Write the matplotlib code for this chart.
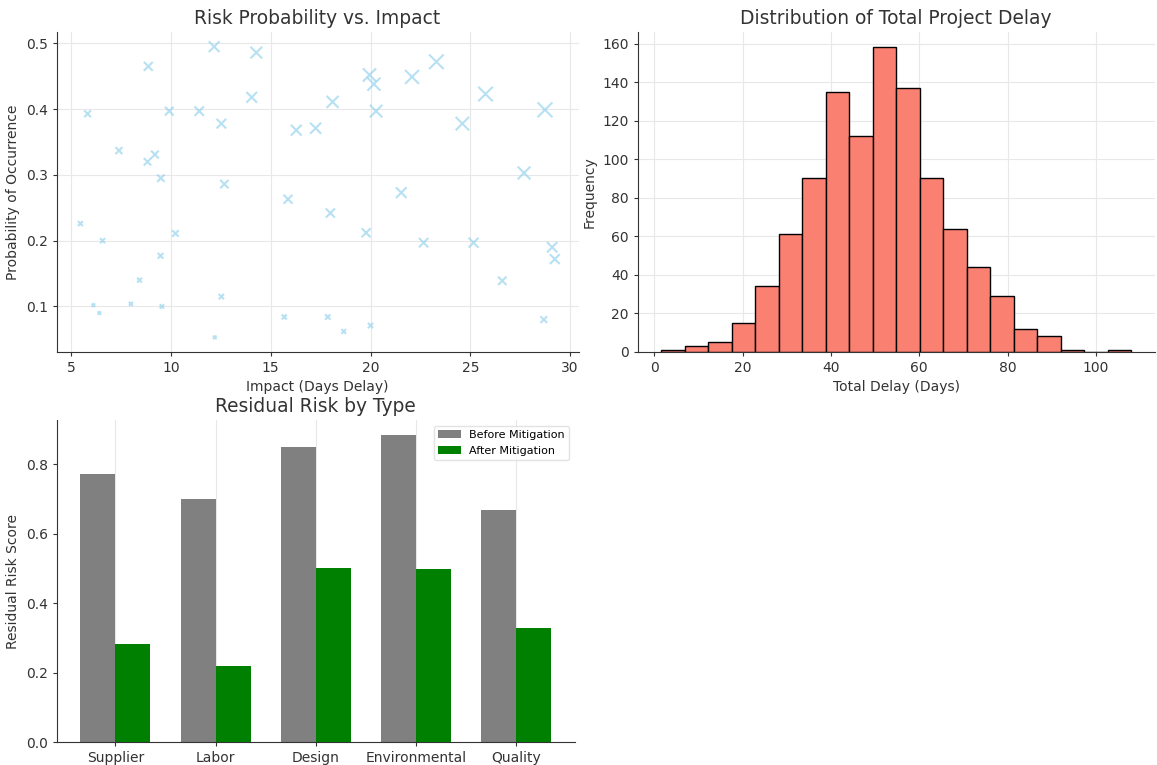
import matplotlib
matplotlib.use("Agg")
import matplotlib.pyplot as plt
import numpy as np

# ---- Scatter data: impact (days) and probability ----
impact = [8.87, 12.17, 14.28, 5.83, 9.92, 11.42, 14.05, 12.53, 16.28, 17.25,
          7.40, 9.20, 8.83, 9.50, 12.68, 15.87, 5.47, 6.58, 10.23, 9.48,
          8.43, 12.53, 6.12, 8.00, 9.55, 6.42, 15.68, 12.20,
          23.30, 19.95, 20.17, 22.08, 18.10, 20.28, 25.76, 28.74, 24.60, 27.69,
          21.54, 17.99, 19.78, 22.66, 25.16, 29.10, 29.23, 26.60, 17.86, 18.66,
          20.00, 28.68]
probability = [0.465, 0.495, 0.486, 0.393, 0.397, 0.397, 0.418, 0.378, 0.368, 0.371,
               0.337, 0.331, 0.320, 0.295, 0.286, 0.263, 0.226, 0.200, 0.211, 0.177,
               0.140, 0.115, 0.102, 0.104, 0.100, 0.090, 0.084, 0.053,
               0.472, 0.452, 0.438, 0.449, 0.411, 0.397, 0.423, 0.399, 0.378, 0.303,
               0.273, 0.242, 0.212, 0.197, 0.197, 0.190, 0.172, 0.139, 0.084, 0.062,
               0.071, 0.080]

# ---- Histogram data ----
bin_edges = np.linspace(1.5, 108.0, 21)
counts = [1, 3, 5, 15, 34, 61, 90, 135, 112, 158, 137, 90, 64, 44, 29, 12, 8, 1, 0, 1]

# ---- Bar data ----
risk_types = ["Supplier", "Labor", "Design", "Environmental", "Quality"]
before = [0.772, 0.700, 0.848, 0.883, 0.667]
after = [0.282, 0.220, 0.502, 0.498, 0.327]

plt.rcParams['font.family'] = ['DejaVu Sans']
plt.rcParams['font.size'] = 10

fig = plt.figure(figsize=(11.57, 7.65), dpi=100)
fig.patch.set_facecolor('white')

grid_kw = dict(color='#e8e8e8', linewidth=0.8)
TITLE = 13.4
LABEL = 10
TICK = 10


def style(ax):
    ax.spines['top'].set_visible(False)
    ax.spines['right'].set_visible(False)
    ax.spines['left'].set_color('#333333')
    ax.spines['bottom'].set_color('#333333')
    ax.tick_params(colors='#333333', labelsize=TICK, length=3)
    ax.set_axisbelow(True)


# Scatter
ax1 = fig.add_axes([0.049, 0.540, 0.451, 0.418])
imp = np.array(impact)
prob = np.array(probability)
ax1.scatter(imp, prob, s=imp * prob * 10, marker='x', color='skyblue', alpha=0.6)
ax1.set_title("Risk Probability vs. Impact", fontsize=TITLE, color='#333333')
ax1.set_xlabel("Impact (Days Delay)", fontsize=LABEL, color='#333333')
ax1.set_ylabel("Probability of Occurrence", fontsize=LABEL, color='#333333')
ax1.set_xticks([5, 10, 15, 20, 25, 30])
ax1.set_yticks([0.1, 0.2, 0.3, 0.4, 0.5])
ax1.grid(True, **grid_kw)
style(ax1)

# Histogram
ax2 = fig.add_axes([0.551, 0.540, 0.447, 0.418])
centers = (bin_edges[:-1] + bin_edges[1:]) / 2
ax2.hist(centers, bins=bin_edges, weights=counts, color='salmon', edgecolor='black', linewidth=1.0)
ax2.set_title("Distribution of Total Project Delay", fontsize=TITLE, color='#333333')
ax2.set_xlabel("Total Delay (Days)", fontsize=LABEL, color='#333333')
ax2.set_ylabel("Frequency", fontsize=LABEL, color='#333333')
ax2.set_xticks([0, 20, 40, 60, 80, 100])
ax2.set_yticks([0, 20, 40, 60, 80, 100, 120, 140, 160])
ax2.grid(True, **grid_kw)
style(ax2)

# Bars
ax3 = fig.add_axes([0.049, 0.030, 0.448, 0.421])
x = np.arange(len(risk_types))
w = 0.35
ax3.bar(x - w / 2, before, w, color='gray', label='Before Mitigation')
ax3.bar(x + w / 2, after, w, color='green', label='After Mitigation')
ax3.set_xticks(x)
ax3.set_xticklabels(risk_types)
ax3.set_title("Residual Risk by Type", fontsize=TITLE, color='#333333')
ax3.set_ylabel("Residual Risk Score", fontsize=LABEL, color='#333333')
ax3.set_yticks([0.0, 0.2, 0.4, 0.6, 0.8])
ax3.grid(True, axis='x', **grid_kw)
ax3.legend(loc='upper right', fontsize=8, frameon=True, edgecolor='#dddddd')
style(ax3)

fig.savefig("out.png", dpi=100, facecolor='white')
